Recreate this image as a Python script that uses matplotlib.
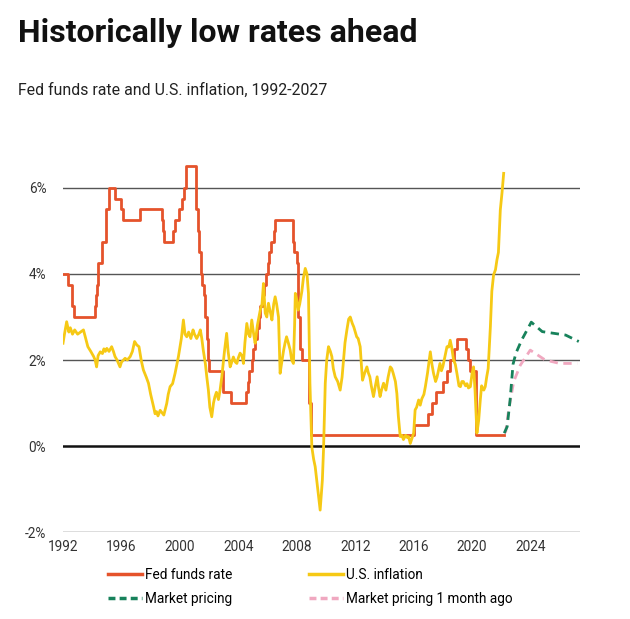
import matplotlib
matplotlib.use("Agg")
import matplotlib.pyplot as plt
from matplotlib.lines import Line2D

plt.rcParams['font.family'] = ['Roboto', 'DejaVu Sans']

# ---------------- data ----------------
fed_dates = [1992.0, 1992.333, 1992.583, 1992.75, 1994.167, 1994.25, 1994.333, 1994.417,
             1994.667, 1994.917, 1995.167, 1995.583, 1996.0, 1996.083, 1997.25, 1998.75,
             1998.833, 1998.917, 1999.5, 1999.667, 1999.917, 2000.167, 2000.25, 2000.417,
             2001.083, 2001.25, 2001.333, 2001.417, 2001.5, 2001.667, 2001.75, 2001.833,
             2001.917, 2002.0, 2002.917, 2003.5, 2004.5, 2004.667, 2004.75, 2004.917,
             2005.0, 2005.167, 2005.25, 2005.417, 2005.5, 2005.667, 2005.75, 2005.917,
             2006.0, 2006.083, 2006.25, 2006.417, 2006.5, 2007.75, 2007.833, 2008.0,
             2008.083, 2008.25, 2008.333, 2008.833, 2009.0, 2016.0, 2017.0, 2017.25,
             2017.5, 2018.0, 2018.25, 2018.5, 2018.75, 2019.0, 2019.583, 2019.75,
             2019.833, 2020.25, 2022.2]
fed_rates = [4.0, 3.75, 3.25, 3.0, 3.25, 3.5, 3.75, 4.25,
             4.75, 5.5, 6.0, 5.75, 5.5, 5.25, 5.5, 5.25,
             5.0, 4.75, 5.0, 5.25, 5.5, 5.75, 6.0, 6.5,
             5.5, 5.0, 4.5, 4.0, 3.75, 3.5, 3.0, 2.5,
             2.0, 1.75, 1.25, 1.0, 1.25, 1.5, 1.75, 2.0,
             2.25, 2.5, 2.75, 3.0, 3.25, 3.5, 3.75, 4.0,
             4.25, 4.5, 4.75, 5.0, 5.25, 4.75, 4.5, 4.25,
             3.0, 2.25, 2.0, 1.0, 0.25, 0.5, 0.75, 1.0,
             1.25, 1.5, 1.75, 2.0, 2.25, 2.5, 2.25, 2.0,
             1.75, 0.25, 0.25]

infl_dates = [1992.0, 1992.1, 1992.25, 1992.4, 1992.5, 1992.65, 1992.8, 1993.0, 1993.2, 1993.4,
              1993.55, 1993.7, 1993.9, 1994.1, 1994.2, 1994.3, 1994.4, 1994.55, 1994.7, 1994.8,
              1994.9, 1995.0, 1995.15, 1995.33, 1995.45, 1995.56, 1995.7, 1995.9, 1996.0, 1996.25,
              1996.4, 1996.6, 1996.75, 1996.9, 1997.05, 1997.2, 1997.35, 1997.5, 1997.7, 1997.85,
              1998.0, 1998.2, 1998.3, 1998.4, 1998.5, 1998.65, 1998.9, 1999.1, 1999.2, 1999.33,
              1999.5, 1999.67, 1999.9, 2000.1, 2000.24, 2000.35, 2000.47, 2000.6, 2000.75, 2000.9,
              2001.0, 2001.15, 2001.3, 2001.4, 2001.5, 2001.6, 2001.75, 2001.84, 2001.95, 2002.05,
              2002.18, 2002.3, 2002.4, 2002.5, 2002.64, 2002.75, 2002.87, 2003.05, 2003.2, 2003.3,
              2003.44, 2003.55, 2003.66, 2003.8, 2003.9, 2004.0, 2004.12, 2004.25, 2004.35, 2004.45,
              2004.58, 2004.7, 2004.8, 2004.92, 2005.05, 2005.15, 2005.3, 2005.5, 2005.62, 2005.72,
              2005.84, 2005.95, 2006.06, 2006.2, 2006.3, 2006.42, 2006.52, 2006.62, 2006.75, 2006.86,
              2006.95, 2007.1, 2007.2, 2007.3, 2007.42, 2007.55, 2007.65, 2007.77, 2007.85, 2007.9,
              2008.0, 2008.1, 2008.2, 2008.35, 2008.45, 2008.58, 2008.7, 2008.8, 2008.9, 2009.03,
              2009.15, 2009.26, 2009.4, 2009.6, 2009.75, 2009.83, 2009.95, 2010.05, 2010.17, 2010.3,
              2010.4, 2010.5, 2010.63, 2010.8, 2010.97, 2011.1, 2011.2, 2011.3, 2011.43, 2011.55,
              2011.66, 2011.8, 2011.9, 2012.1, 2012.2, 2012.34, 2012.42, 2012.5, 2012.65, 2012.8,
              2012.9, 2013.0, 2013.1, 2013.25, 2013.38, 2013.5, 2013.6, 2013.7, 2013.8, 2013.94,
              2014.1, 2014.25, 2014.4, 2014.5, 2014.6, 2014.75, 2014.85, 2014.95, 2015.08, 2015.2,
              2015.3, 2015.45, 2015.55, 2015.65, 2015.77, 2015.9, 2016.0, 2016.1, 2016.2, 2016.34,
              2016.45, 2016.56, 2016.7, 2016.8, 2016.95, 2017.14, 2017.25, 2017.36, 2017.5, 2017.6,
              2017.8, 2017.9, 2018.0, 2018.15, 2018.28, 2018.4, 2018.5, 2018.6, 2018.73, 2018.85,
              2018.96, 2019.1, 2019.2, 2019.3, 2019.4, 2019.55, 2019.65, 2019.75, 2019.88, 2020.0,
              2020.1, 2020.2, 2020.33, 2020.45, 2020.56, 2020.65, 2020.8, 2020.9, 2021.0, 2021.1,
              2021.25, 2021.35, 2021.47, 2021.6, 2021.7, 2021.8, 2021.93, 2022.05, 2022.16]
infl_vals = [2.39, 2.6, 2.89, 2.65, 2.75, 2.6, 2.7, 2.6, 2.65, 2.7,
             2.5, 2.31, 2.2, 2.08, 2.0, 1.84, 2.1, 2.19, 2.15, 2.26,
             2.2, 2.27, 2.2, 2.31, 2.2, 2.08, 2.0, 1.84, 1.95, 2.04,
             2.0, 2.08, 2.2, 2.43, 2.35, 2.31, 2.0, 1.77, 1.6, 1.46,
             1.2, 0.91, 0.75, 0.8, 0.7, 0.83, 0.72, 0.99, 1.2, 1.38,
             1.45, 1.69, 2.08, 2.5, 2.93, 2.6, 2.54, 2.65, 2.5, 2.7,
             2.6, 2.5, 2.6, 2.7, 2.5, 2.23, 1.9, 1.61, 1.3, 0.9,
             0.68, 1.0, 1.15, 1.25, 1.08, 1.3, 1.61, 2.2, 2.62, 2.2,
             1.84, 1.95, 2.07, 1.95, 1.92, 2.05, 2.16, 2.1, 1.92, 2.4,
             2.85, 2.6, 2.54, 2.93, 2.6, 2.39, 2.8, 3.16, 3.3, 3.78,
             3.09, 3.0, 3.32, 3.1, 2.93, 3.3, 3.47, 3.3, 3.0, 1.69,
             1.9, 2.23, 2.4, 2.54, 2.4, 2.23, 2.0, 1.92, 2.8, 3.55,
             3.4, 3.16, 3.3, 3.6, 3.9, 4.13, 4.0, 3.55, 1.46, -0.02,
             -0.3, -0.48, -0.9, -1.49, -0.8, -0.09, 1.46, 2.0, 2.31, 2.2,
             2.08, 1.8, 1.61, 1.5, 1.3, 1.6, 2.0, 2.4, 2.7, 2.95,
             3.0, 2.85, 2.77, 2.54, 2.5, 2.31, 1.9, 1.53, 1.7, 1.84,
             1.7, 1.61, 1.4, 1.15, 1.4, 1.61, 1.35, 1.15, 1.3, 1.46,
             1.3, 1.6, 1.84, 1.8, 1.69, 1.5, 1.22, 0.7, 0.22, 0.25,
             0.15, 0.25, 0.2, 0.22, 0.06, 0.2, 0.3, 0.84, 0.9, 1.07,
             0.95, 1.1, 1.2, 1.38, 1.7, 2.19, 1.9, 1.69, 1.5, 1.6,
             1.92, 1.75, 1.85, 2.1, 2.31, 2.3, 2.46, 2.3, 2.0, 1.9,
             1.69, 1.4, 1.38, 1.5, 1.5, 1.4, 1.45, 1.35, 1.38, 1.7,
             1.84, 1.3, 0.3, 0.6, 1.07, 1.4, 1.3, 1.38, 1.61, 1.8,
             2.77, 3.6, 3.98, 4.1, 4.33, 4.5, 5.49, 5.9, 6.34]

mkt_dates = [2022.2, 2022.4, 2022.6, 2022.8, 2023.0, 2023.4, 2024.05, 2024.8, 2026.4, 2027.3]
mkt_vals = [0.3, 0.45, 1.07, 1.9, 2.16, 2.47, 2.88, 2.66, 2.58, 2.43]

mkt_prev_dates = [2022.2, 2022.3, 2022.5, 2022.85, 2023.3, 2023.98, 2025.0, 2026.0, 2027.2]
mkt_prev_vals = [0.3, 0.33, 0.84, 1.5, 1.88, 2.23, 2.0, 1.92, 1.92]

y_ticks = [-2, 0, 2, 4, 6]
y_labels = ['-2%', '0%', '2%', '4%', '6%']
x_ticks = [1992, 1996, 2000, 2004, 2008, 2012, 2016, 2020, 2024]

# ---------------- colours ----------------
C_FED = '#E5532B'
C_INF = '#F6C915'
C_MKT = '#17825B'
C_PREV = '#F0A8C0'

fig = plt.figure(figsize=(6.3, 6.19), dpi=100)
fig.patch.set_facecolor('white')
ax = fig.add_axes([0.1, 0.1405, 0.821, 0.5975])

for yv in y_ticks:
    if yv == 0:
        ax.axhline(yv, color='#111111', lw=1.8, zorder=1)
    else:
        ax.axhline(yv, color='#555555', lw=1.0, zorder=1)

ax.plot(mkt_prev_dates, mkt_prev_vals, color=C_PREV, lw=2.0, ls=(0, (3.0, 2.0)), zorder=3)
ax.plot(mkt_dates, mkt_vals, color=C_MKT, lw=2.0, ls=(0, (3.0, 2.0)), zorder=4)
ax.plot(fed_dates, fed_rates, color=C_FED, lw=2.0, drawstyle='steps-post', zorder=5)
ax.plot(infl_dates, infl_vals, color=C_INF, lw=2.0, zorder=6)

ax.set_xlim(1992, 2027.4)
ax.set_ylim(-2, 6.6)
for s in ax.spines.values():
    s.set_visible(False)
ax.set_yticks(y_ticks)
ax.set_yticklabels(y_labels)
ax.set_xticks(x_ticks)
ax.set_xticklabels([str(x) for x in x_ticks])
ax.tick_params(axis='both', length=0, labelsize=9.8, labelcolor='#333333')
ax.tick_params(axis='y', pad=12)
ax.tick_params(axis='x', pad=6)

fig.text(18 / 630, 1 - 33 / 619, 'Historically low rates ahead', fontsize=23,
         fontweight='bold', color='#111111', va='center', ha='left')
fig.text(18 / 630, 1 - 90 / 619, 'Fed funds rate and U.S. inflation, 1992-2027', fontsize=11.4,
         color='#222222', va='center', ha='left')

handles = [
    Line2D([], [], color=C_FED, lw=2.5),
    Line2D([], [], color=C_MKT, lw=2.5, ls=(0, (2.0, 1.2))),
    Line2D([], [], color=C_INF, lw=2.5),
    Line2D([], [], color=C_PREV, lw=2.5, ls=(0, (2.0, 1.2))),
]
labels = ['Fed funds rate', 'Market pricing', 'U.S. inflation', 'Market pricing 1 month ago']
fig.legend(handles, labels, ncol=2, loc='upper left', bbox_to_anchor=(108 / 630, 1 - 568 / 619),
           frameon=False, fontsize=9.8, handlelength=2.5, handletextpad=0.25,
           columnspacing=5.6, labelspacing=0.75, borderaxespad=0, borderpad=0)

fig.savefig('out.png', dpi=100, facecolor='white')
